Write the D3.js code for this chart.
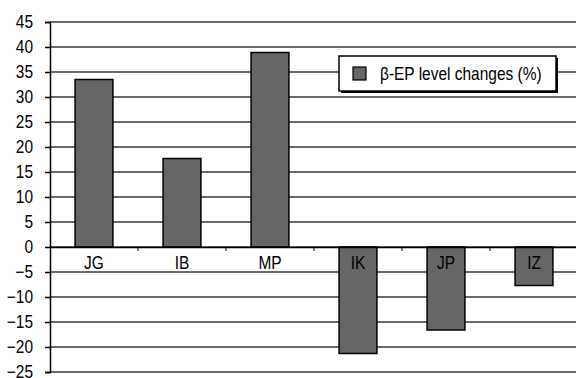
<!DOCTYPE html>
<html>
<head>
<meta charset="utf-8">
<script src="https://cdn.jsdelivr.net/npm/d3@7"></script>
<style>
  body { margin: 0; background: #fff; }
  text { font-family: "Liberation Sans Narrow", "Liberation Sans", Arial, sans-serif; }
</style>
</head>
<body>
<svg id="chart"></svg>
<script>
const categories = ["JG", "IB", "MP", "IK", "JP", "IZ"];
const values = [33.5, 17.7, 38.9, -21.3, -16.6, -7.7];
const seriesName = "\u03B2-EP level changes (%)";
const yTicks = [-25, -20, -15, -10, -5, 0, 5, 10, 15, 20, 25, 30, 35, 40, 45];

const width = 576;
const height = 378;
const margin = {top: 22, right: -2, bottom: 6, left: 50};
const narrow = 0.86; // squeeze text horizontally, no narrow font installed

const svg = d3.select('#chart')
  .attr('width', width)
  .attr('height', height);

const g = svg.append('g')
  .attr('transform', `translate(${margin.left}, ${margin.top})`);

const w = width - margin.left - margin.right;
const h = height - margin.top - margin.bottom;

const xscale = d3.scaleBand()
  .domain(categories)
  .range([0, w])
  .paddingInner(0.57)
  .paddingOuter(0.285);

const yscale = d3.scaleLinear()
  .domain([-25, 45])
  .range([h, 0]);

// squeeze a text element around its x position
function squeeze(sel) {
  sel.each(function() {
    const t = d3.select(this);
    const x = +t.attr('x') || 0;
    t.attr('x', 0).attr('transform', `translate(${x},0) scale(${narrow},1)`);
  });
}

// grid
g.selectAll('line.grid').data(yTicks).enter().append('line')
  .attr('class', 'grid')
  .attr('x1', 0)
  .attr('x2', w)
  .attr('y1', d => yscale(d))
  .attr('y2', d => yscale(d))
  .attr('stroke', '#3a3a3a')
  .attr('stroke-width', 1.5);

// y axis
const yaxis = d3.axisLeft(yscale)
  .tickValues(yTicks)
  .tickSize(5)
  .tickPadding(12);

const ya = g.append('g').call(yaxis);
ya.select('.domain').attr('stroke', '#000').attr('stroke-width', 1.5);
ya.selectAll('.tick line').attr('stroke', '#000').attr('stroke-width', 1.5);
ya.selectAll('.tick text')
  .attr('fill', '#000')
  .attr('font-size', '18px')
  .attr('font-family', null)
  .call(squeeze);

// bars
g.selectAll('rect.bar').data(values).enter().append('rect')
  .attr('class', 'bar')
  .attr('x', (d, i) => xscale(categories[i]))
  .attr('width', xscale.bandwidth())
  .attr('y', d => yscale(Math.max(0, d)))
  .attr('height', d => Math.abs(yscale(d) - yscale(0)))
  .attr('fill', '#666666')
  .attr('stroke', '#000')
  .attr('stroke-width', 1.5);

// zero line with category labels
const xaxis = d3.axisBottom(xscale)
  .tickSize(0)
  .tickPadding(9);

const xa = g.append('g')
  .attr('transform', `translate(0, ${yscale(0)})`)
  .call(xaxis);
xa.select('.domain').attr('stroke', '#000').attr('stroke-width', 1.5);
xa.selectAll('.tick text')
  .attr('fill', '#000')
  .attr('font-size', '18px')
  .attr('font-family', null)
  .call(squeeze);

// small ticks between categories
const gap = (xscale.step() - xscale.bandwidth()) / 2;
g.selectAll('line.ctick').data(categories.slice(1)).enter().append('line')
  .attr('class', 'ctick')
  .attr('x1', d => xscale(d) - gap)
  .attr('x2', d => xscale(d) - gap)
  .attr('y1', yscale(0))
  .attr('y2', yscale(0) + 4)
  .attr('stroke', '#000')
  .attr('stroke-width', 1);

// legend
const legend = svg.append('g').attr('transform', 'translate(339, 56)');
legend.append('rect')
  .attr('x', 2).attr('y', 2)
  .attr('width', 217).attr('height', 35)
  .attr('fill', '#000');
legend.append('rect')
  .attr('width', 217).attr('height', 35)
  .attr('fill', '#fff')
  .attr('stroke', '#000')
  .attr('stroke-width', 1.5);
legend.append('rect')
  .attr('x', 14).attr('y', 11)
  .attr('width', 13).attr('height', 13)
  .attr('fill', '#666666')
  .attr('stroke', '#000')
  .attr('stroke-width', 1.2);
legend.append('text')
  .attr('x', 41).attr('y', 24)
  .attr('font-size', '18px')
  .attr('fill', '#000')
  .text(seriesName)
  .call(squeeze);
</script>
</body>
</html>
